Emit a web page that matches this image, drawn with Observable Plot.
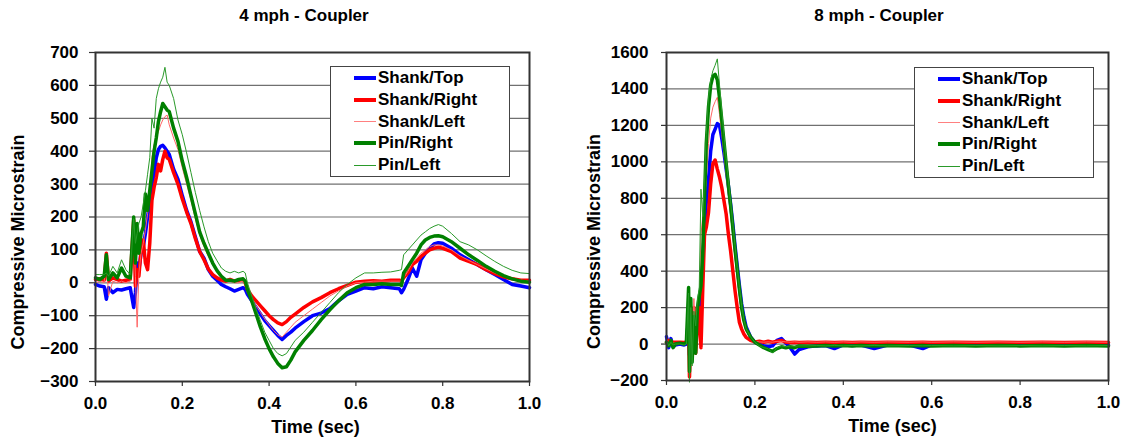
<!DOCTYPE html>
<html>
<head>
<meta charset="utf-8">
<script src="https://cdn.jsdelivr.net/npm/d3@7"></script>
<script src="https://cdn.jsdelivr.net/npm/@observablehq/plot@0.6"></script>
<style>
  html, body { margin: 0; padding: 0; background: #fff; }
  #root { position: relative; width: 1125px; height: 441px; overflow: hidden; font-family: "Liberation Sans", Arial, sans-serif; }
  .title { position: absolute; top: 6px; width: 300px; text-align: center; font-weight: bold; font-size: 17px; line-height: 20px; color: #000; }
  .chart { position: absolute; top: 32px; }
  .legend { position: absolute; box-sizing: border-box; background: #fff; border: 1px solid #444; width: 180px; height: 111px; }
  .legend .row { position: absolute; left: 0; height: 22px; width: 178px; }
  .legend .sw { position: absolute; left: 23px; width: 22px; top: 50%; }
  .legend .lab { position: absolute; left: 47px; top: 0; line-height: 22px; font-weight: bold; font-size: 17px; color: #000; white-space: nowrap; }
</style>
</head>
<body>
<div id="root"></div>
<script>
// ---------- data ----------
const seriesNames = ["Shank/Top", "Shank/Right", "Shank/Left", "Pin/Right", "Pin/Left"];
const seriesColors = ["#0000ff", "#ff0000", "#ff6666", "#008000", "#2a9a2a"];
const seriesWidths = [3.5, 3.5, 1, 3.5, 1];

const xTicks = [0, 0.2, 0.4, 0.6, 0.8, 1.0];
const yTicks4 = [-300, -200, -100, 0, 100, 200, 300, 400, 500, 600, 700];
const yTicks8 = [-200, 0, 200, 400, 600, 800, 1000, 1200, 1400, 1600];

// 4 mph chart
const time4 = [
  0.000, 0.010, 0.020, 0.025, 0.030, 0.040, 0.050, 0.060, 0.070, 0.080,
  0.088, 0.092, 0.096, 0.100, 0.105, 0.110, 0.115, 0.120, 0.125, 0.130,
  0.135, 0.140, 0.145, 0.150, 0.155, 0.160, 0.165, 0.170, 0.180, 0.190,
  0.200, 0.210, 0.220, 0.230, 0.240, 0.250, 0.260, 0.270, 0.280, 0.290,
  0.300, 0.310, 0.320, 0.330, 0.340, 0.345, 0.350, 0.360, 0.370, 0.380,
  0.390, 0.400, 0.410, 0.420, 0.430, 0.440, 0.450, 0.460, 0.480, 0.500,
  0.520, 0.540, 0.560, 0.580, 0.600, 0.620, 0.640, 0.660, 0.680, 0.700,
  0.705, 0.710, 0.720, 0.730, 0.740, 0.750, 0.760, 0.770, 0.780, 0.790,
  0.800, 0.820, 0.840, 0.860, 0.880, 0.900, 0.920, 0.940, 0.960, 0.980,
  1.000
];
const shankTop4 = [
  -5, -10, -12, -50, -15, -30, -20, -22, -18, -15,
  -75, -30, 60, 40, 90, 110, 150, 200, 250, 300,
  330, 380, 405, 415, 418, 410, 400, 390, 345, 315,
  265, 220, 185, 140, 95, 75, 40, 20, 8, -5,
  -12, -18, -25, -20, -15, -20, -35, -55, -75, -95,
  -115, -130, -145, -160, -172, -160, -150, -138, -118, -100,
  -92, -78, -55, -35, -25, -15, -18, -12, -15, -18,
  -30, -20, 10, 45, 20, 70, 90, 105, 118, 122,
  120, 105, 85, 70, 55, 40, 25, 10, -5, -10,
  -15
];
const shankRight4 = [
  10, 12, 8, 90, 5, 15, 10, 5, 8, 10,
  190, -10, 40, 20, 100, 130, 60, 40, 120, 250,
  290, 320, 360, 340, 375, 400, 380, 375, 335, 300,
  255, 215, 180, 135, 95, 70, 42, 25, 15, 8,
  5, 10, 5, 8, 10, 0, -20, -40, -55, -70,
  -85, -100, -112, -122, -127, -118, -105, -95, -75, -58,
  -45, -30, -18, -8, 2, 5, 6, 5, 8, 8,
  5, 15, 30, 55, 65, 80, 90, 100, 105, 108,
  105, 95, 75, 65, 55, 40, 28, 18, 12, 8,
  8
];
const shankLeft4 = [
  0, 5, 0, 80, -40, 5, 0, 5, 0, 5,
  150, 20, -135, 30, 90, 120, 160, 210, 270, 380,
  420, 440, 460, 480, 495, 505, 510, 480, 440, 405,
  350, 300, 250, 195, 145, 110, 80, 55, 35, 18,
  5, 5, 0, 0, 5, -5, -30, -50, -70, -90,
  -110, -128, -145, -158, -165, -150, -135, -120, -100, -80,
  -60, -40, -25, -10, 0, 2, 5, 5, 5, 5,
  5, 15, 35, 60, 75, 90, 100, 110, 115, 115,
  112, 100, 82, 68, 55, 42, 30, 20, 12, 8,
  5
];
const pinRight4 = [
  15, 10, 20, 85, 10, 30, 15, 45, 20, 15,
  200, 60, 180, 90, 150, 170, 270, 220, 280, 340,
  400, 440, 490, 520, 545, 535, 525, 520, 470, 430,
  370, 320, 265, 210, 155, 120, 90, 60, 37, 20,
  8, 8, 5, 10, 12, 5, -20, -55, -95, -135,
  -170, -200, -225, -245, -258, -255, -235, -210, -175, -145,
  -112, -82, -55, -30, -15, -5, -5, -3, -5, -5,
  -8, 30, 50, 70, 90, 115, 130, 138, 142, 143,
  140, 125, 105, 85, 68, 50, 35, 22, 12, 5,
  2
];
const pinLeft4 = [
  25, 25, 25, 30, 20, 50, 30, 70, 40, 25,
  195, 120, 150, 180, 200, 240, 280, 330, 380, 500,
  470, 560, 590, 610, 625, 655, 610, 600, 560, 495,
  450, 395, 335, 275, 220, 170, 125, 90, 67, 45,
  35, 30, 35, 30, 35, 30, 0, -40, -80, -115,
  -150, -175, -200, -215, -222, -215, -195, -175, -150, -120,
  -90, -60, -30, -5, 15, 30, 30, 32, 33, 38,
  40, 85, 100, 115, 130, 145, 155, 165, 172, 177,
  172, 150, 125, 115, 100, 82, 65, 50, 38, 30,
  28
];

// 8 mph chart
const time8 = [
  0.000, 0.005, 0.010, 0.015, 0.020, 0.030, 0.040, 0.045, 0.050, 0.052,
  0.055, 0.058, 0.062, 0.066, 0.070, 0.074, 0.078, 0.082, 0.086, 0.090,
  0.095, 0.100, 0.105, 0.110, 0.115, 0.120, 0.125, 0.130, 0.135, 0.140,
  0.145, 0.150, 0.155, 0.160, 0.165, 0.170, 0.175, 0.180, 0.190, 0.200,
  0.210, 0.220, 0.230, 0.240, 0.250, 0.260, 0.270, 0.280, 0.290, 0.300,
  0.320, 0.340, 0.360, 0.380, 0.400, 0.420, 0.440, 0.470, 0.500, 0.550,
  0.580, 0.600, 0.650, 0.700, 0.750, 0.800, 0.850, 0.900, 0.950, 1.000
];
const shankTop8 = [
  40, -20, 30, -15, -5, 0, -5, 0, 150, -60,
  100, 10, 140, 50, 120, 200, 260, 450, 640, 780,
  900, 1060, 1150, 1180, 1210, 1200, 1130, 1050, 960, 870,
  770, 660, 540, 430, 320, 220, 150, 95, 40, 10,
  0, -10, -15, -10, 20, 30, 5, -20, -55, -30,
  -15, -10, -8, -25, -5, -8, -5, -25, -5, -5,
  -25, -5, -5, -5, -6, -5, -5, -6, -5, -5
];
const shankRight8 = [
  10, 20, 5, 10, 10, 10, 8, 10, 100, -180,
  50, -70, 200, -50, 100, 200, -20, 300, 600, 640,
  720, 880, 990, 1010, 960, 915, 860, 787, 714, 604,
  512, 403, 293, 201, 119, 82, 55, 37, 20, 12,
  15, 10, 15, 10, 15, 20, 10, 8, 10, 8,
  10, 8, 10, 8, 10, 8, 10, 8, 10, 8,
  10, 8, 10, 8, 10, 8, 10, 8, 10, 8
];
const shankLeft8 = [
  30, 0, 20, 5, 5, 5, 5, 10, 200, -200,
  100, -50, 250, 0, 150, 250, 600, 700, 750, 900,
  1100, 1240, 1300, 1330, 1354, 1260, 1150, 1040, 930, 820,
  710, 590, 470, 360, 260, 170, 110, 70, 35, 15,
  12, 10, 12, 10, 15, 15, 12, 10, 12, 10,
  12, 10, 12, 10, 12, 10, 12, 10, 12, 10,
  12, 10, 12, 10, 12, 10, 12, 10, 12, 10
];
const pinRight8 = [
  10, -10, 20, -20, 0, 5, 0, 10, 310, -150,
  250, -100, 150, -50, 200, 260, 320, 500, 800, 1100,
  1300, 1420, 1470, 1480, 1450, 1350, 1230, 1110, 990, 870,
  760, 640, 520, 410, 300, 200, 130, 85, 40, 10,
  -5, -20, -30, -40, -25, -15, -20, -15, -20, -10,
  -12, -10, -8, -10, -8, -10, -8, -10, -8, -10,
  -8, -10, -8, -10, -8, -10, -8, -10, -8, -10
];
const pinLeft8 = [
  20, -10, 10, -5, 0, 0, -5, 0, 280, -210,
  200, -120, 180, 100, 250, 300, 850, 700, 900, 1150,
  1350, 1450, 1500, 1530, 1565, 1420, 1280, 1150, 1020, 900,
  780, 660, 540, 420, 310, 210, 135, 85, 40, 10,
  -10, -20, -25, -50, -20, -10, -15, -10, -12, -10,
  -10, -8, -10, -8, -10, -8, -10, -8, -10, -8,
  -10, -8, -10, -8, -10, -8, -10, -8, -10, -8
];

// ---------- drawing ----------
const FONT = "'Liberation Sans', Arial, sans-serif";

function makeChart(cfg) {
  const lines = cfg.series.map((vals, i) =>
    Plot.line(cfg.time.map((t, j) => ({t, v: vals[j]})), {
      x: "t", y: "v",
      stroke: seriesColors[i],
      strokeWidth: seriesWidths[i],
      strokeLinejoin: "round"
    })
  );
  return Plot.plot({
    width: cfg.width,
    height: 409,
    marginLeft: cfg.marginLeft,
    marginRight: cfg.marginRight,
    marginTop: 20,
    marginBottom: cfg.marginBottom,
    style: {fontFamily: FONT, fontSize: "17px", fontWeight: "bold", color: "#000", background: "#fff", overflow: "visible"},
    x: {domain: [0, 1], label: null},
    y: {domain: cfg.yDomain, label: null},
    marks: [
      Plot.gridY(cfg.yTicks, {stroke: "#707070", strokeOpacity: 1, strokeWidth: 1.2}),
      Plot.axisY(cfg.yTicks, {tickSize: cfg.yTickSize, tickPadding: cfg.yTickPadding, stroke: "#333", strokeWidth: 1.2, tickFormat: d3.format("d"), label: null, fontSize: 17, fontWeight: "bold"}),
      Plot.axisX(xTicks, {tickSize: 5, tickPadding: 10, stroke: "#333", strokeWidth: 1.2, tickFormat: d3.format(".1f"), label: null, fontSize: 17, fontWeight: "bold"}),
      ...lines,
      Plot.frame({stroke: "#333", strokeWidth: 2}),
      Plot.text(["Compressive Microstrain"], {frameAnchor: "left", rotate: -90, dx: cfg.yLabelDx, dy: 25, textAnchor: "middle", lineAnchor: "middle", fontSize: 18, fontWeight: "bold", fill: "#000"}),
      Plot.text(["Time (sec)"], {frameAnchor: "bottom", dx: cfg.xLabelDx, dy: 46, textAnchor: "middle", lineAnchor: "middle", fontSize: 18, fontWeight: "bold", fill: "#000"})
    ]
  });
}

const root = document.getElementById("root");

function addTitle(text, cx) {
  const d = document.createElement("div");
  d.className = "title";
  d.style.left = (cx - 150) + "px";
  d.textContent = text;
  root.appendChild(d);
}

function addLegend(left, top) {
  const lg = document.createElement("div");
  lg.className = "legend";
  lg.style.left = left + "px";
  lg.style.top = top + "px";
  seriesNames.forEach((name, i) => {
    const row = document.createElement("div");
    row.className = "row";
    row.style.top = (i * 21.75) + "px";
    const sw = document.createElement("div");
    sw.className = "sw";
    const h = Math.max(1, Math.round(seriesWidths[i]));
    sw.style.height = h + "px";
    sw.style.marginTop = (-h / 2) + "px";
    sw.style.background = i === 2 ? "#ff8080" : seriesColors[i];
    const lab = document.createElement("div");
    lab.className = "lab";
    lab.textContent = name;
    row.appendChild(sw);
    row.appendChild(lab);
    lg.appendChild(row);
  });
  root.appendChild(lg);
}

const c1 = makeChart({
  time: time4,
  series: [shankTop4, shankRight4, shankLeft4, pinRight4, pinLeft4],
  width: 560, marginLeft: 95, marginRight: 31, marginBottom: 60,
  yDomain: [-300, 700], yTicks: yTicks4,
  yTickSize: 6, yTickPadding: 11, yLabelDx: -77, xLabelDx: 3
});
c1.classList.add("chart");
c1.style.position = "absolute";
c1.style.left = "0px";
c1.style.top = "32px";
root.appendChild(c1);

const c2 = makeChart({
  time: time8,
  series: [shankTop8, shankRight8, shankLeft8, pinRight8, pinLeft8],
  width: 565, marginLeft: 106, marginRight: 17, marginBottom: 61,
  yDomain: [-200, 1600], yTicks: yTicks8,
  yTickSize: 5, yTickPadding: 13, yLabelDx: -72, xLabelDx: 5
});
c2.classList.add("chart");
c2.style.position = "absolute";
c2.style.left = "560px";
c2.style.top = "32px";
root.appendChild(c2);

addTitle("4 mph - Coupler", 304);
addTitle("8 mph - Coupler", 879);
addLegend(330, 66);
addLegend(914, 67);
</script>
</body>
</html>
